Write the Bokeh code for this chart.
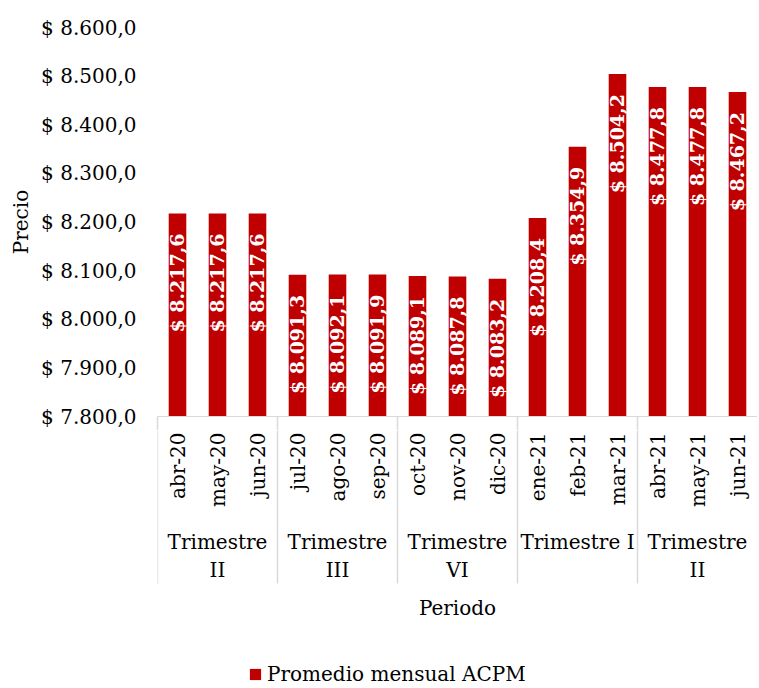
from math import pi
from bokeh.plotting import figure
from bokeh.models import (ColumnDataSource, FactorRange, FixedTicker, LabelSet,
                          Legend, LegendItem, LinearAxis, Range1d)
from bokeh.layouts import column
from bokeh.transform import dodge
from bokeh.core.properties import value
from bokeh.embed import file_html
from bokeh.resources import INLINE

FONT = "DejaVu Serif"
BAR = "#C00000"
GRAY = "#D9D9D9"

months = ["abr-20", "may-20", "jun-20", "jul-20", "ago-20", "sep-20",
          "oct-20", "nov-20", "dic-20", "ene-21", "feb-21", "mar-21",
          "abr-21", "may-21", "jun-21"]
prices = [8217.6, 8217.6, 8217.6, 8091.3, 8092.1, 8091.9,
          8089.1, 8087.8, 8083.2, 8208.4, 8354.9, 8504.2,
          8477.8, 8477.8, 8467.2]
group_names = ["Trimestre\nII", "Trimestre\nIII", "Trimestre\nVI",
               "Trimestre I", "Trimestre\nII"]
group_sizes = [3, 3, 3, 3, 3]
y_ticks = [7800, 7900, 8000, 8100, 8200, 8300, 8400, 8500, 8600]
y_tick_labels = ["$ 7.800,0", "$ 7.900,0", "$ 8.000,0", "$ 8.100,0",
                 "$ 8.200,0", "$ 8.300,0", "$ 8.400,0", "$ 8.500,0",
                 "$ 8.600,0"]
series_name = "Promedio mensual ACPM"
base = 7800


def fmt(v):
    s = f"{v:,.1f}"
    s = s.replace(",", "X").replace(".", ",").replace("X", ".")
    return "$ " + s


src = ColumnDataSource(dict(month=months, value=prices,
                            label=[fmt(v) for v in prices]))

starts, centers, bounds = [], [], []
i = 0
for n in group_sizes:
    starts.append(months[i])
    centers.append(months[i + n // 2])
    bounds.append(i)
    i += n
gsrc = ColumnDataSource(dict(start=starts, center=centers, group=group_names))

W = 757
LEFT = 157
TICK = 14

# ---------- main chart ----------
p = figure(x_range=FactorRange(*months), y_range=Range1d(y_ticks[0], y_ticks[-1]),
           width=W, height=27 + 389 + TICK, output_backend="svg",
           toolbar_location=None, min_border_left=LEFT, min_border_right=0,
           min_border_top=27, min_border_bottom=0, x_axis_location=None)
bars = p.vbar(x="month", top="value", bottom=base, width=0.44, fill_color=BAR,
              line_color=None, source=src)
p.add_layout(LabelSet(x="month", y="value", text="label", source=src,
                      angle=pi / 2, text_align="right", text_baseline="middle",
                      y_offset=-20, text_color="white", text_font=value(FONT),
                      text_font_size="19px", text_font_style="bold"))
p.xgrid.visible = False
p.ygrid.visible = False
p.outline_line_color = None

yax = p.yaxis[0]
yax.ticker = FixedTicker(ticks=y_ticks)
yax.major_label_overrides = {t: l for t, l in zip(y_ticks, y_tick_labels)}
yax.axis_line_color = None
yax.major_tick_line_color = None
yax.minor_tick_line_color = None
yax.major_tick_out = 0
yax.major_tick_in = 0
yax.major_label_standoff = 21
yax.major_label_text_font = FONT
yax.major_label_text_font_size = "20px"
yax.major_label_text_color = "black"
yax.axis_label = "Precio"
yax.axis_label_text_font = FONT
yax.axis_label_text_font_size = "20px"
yax.axis_label_text_font_style = "normal"
yax.axis_label_text_color = "black"
yax.axis_label_standoff = 5

# category axis line with group separators drawn as its ticks
sep_axis = LinearAxis(ticker=FixedTicker(ticks=bounds),
                      major_tick_out=TICK, major_tick_in=0,
                      major_tick_line_color=GRAY, major_tick_line_width=1.5,
                      minor_tick_line_color=None, axis_line_color=GRAY,
                      major_label_overrides={b: "" for b in bounds},
                      major_label_text_font_size="1px", major_label_standoff=0)
p.add_layout(sep_axis, "below")

# ---------- category labels / title / legend ----------
q = figure(x_range=p.x_range, y_range=Range1d(-270, -TICK), width=W,
           height=270 - TICK, output_backend="svg", toolbar_location=None,
           min_border_left=LEFT, min_border_right=0, min_border_top=0,
           min_border_bottom=0, x_axis_location=None, y_axis_location=None)
q.xgrid.visible = False
q.ygrid.visible = False
q.outline_line_color = None
q.segment(x0=dodge("start", -0.5, range=q.x_range), y0=-TICK,
          x1=dodge("start", -0.5, range=q.x_range), y1=-167,
          line_color=GRAY, line_width=1.5, source=gsrc)
q.add_layout(LabelSet(x="month", y=-16, text="month", source=src,
                      angle=pi / 2, text_align="right", text_baseline="middle",
                      text_font=value(FONT), text_font_size="20px",
                      text_color="black"))
q.text(x="center", y=-113, text="group", text_align="center",
       text_baseline="top", text_line_height=1.17, text_font=value(FONT),
       text_font_size="20px", text_color="black", source=gsrc)
q.text(x=[months[len(months) // 2]], y=[-191], text=["Periodo"],
       text_align="center", text_baseline="middle", text_font=value(FONT),
       text_font_size="20px", text_color="black")
# zero-size proxy bar, only used to carry the legend entry
legend_src = ColumnDataSource(dict(month=months[:1], value=[base]))
r = q.vbar(x="month", top="value", bottom="value", width=0, fill_color=BAR,
           line_color=None, source=legend_src)
leg = Legend(items=[LegendItem(label=series_name, renderers=[r])],
             location=(91, 0), glyph_width=14, glyph_height=14,
             label_standoff=5, padding=0, margin=0, spacing=0,
             border_line_color=None, background_fill_alpha=0,
             label_text_font=FONT, label_text_font_size="20px",
             label_text_color="black")
q.add_layout(leg)

layout = column(p, q, spacing=0)
open("out.html", "w").write(file_html(layout, INLINE))
